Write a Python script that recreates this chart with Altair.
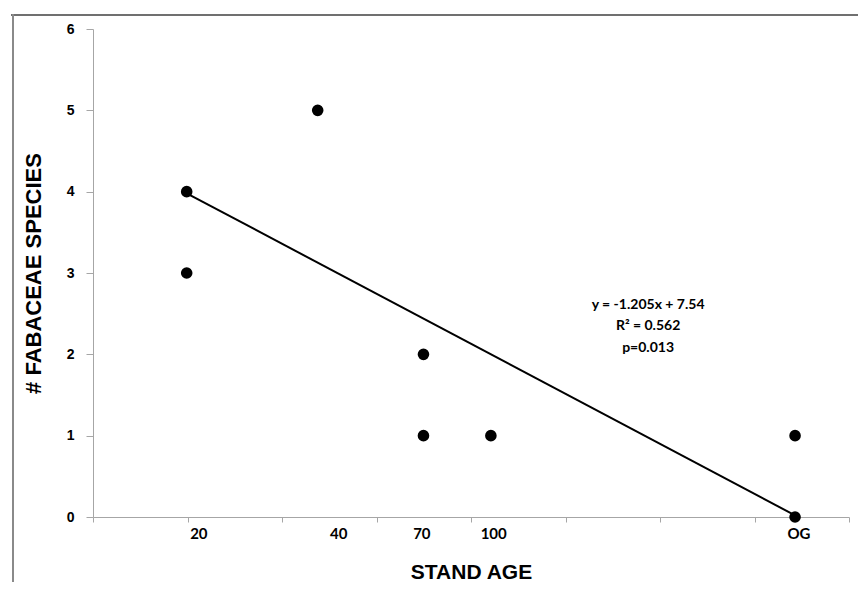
import altair as alt
import pandas as pd
import numpy as np

# Data
stand_age = [20, 20, 40, 70, 70, 100, 500, 500]   # "OG" plotted at ~500 yr
species = [4, 3, 5, 2, 1, 1, 1, 0]

trend_age = [20, 500]
trend_y = [3.98, 0.02]

tick_text = ["20", "40", "70", "100", "OG"]
tick_pos = [3.06, 3.80, 4.24, 4.62, 6.235]   # positions on ln(age) axis

eq_lines = ["y = -1.205x + 7.54", "R² = 0.562", "p=0.013"]

pts = pd.DataFrame({"lnage": np.log(stand_age), "n": species})
trend = pd.DataFrame({"lnage": np.log(trend_age), "n": trend_y})
ticks = pd.DataFrame({"pos": tick_pos, "lab": tick_text})

W, H = 756, 488
AX = "#a6a6a6"

xscale = alt.Scale(domain=[2.5, 6.5], nice=False, zero=False)
yscale = alt.Scale(domain=[0, 6], nice=False)

xaxis = alt.Axis(values=[2.5, 3, 3.5, 4, 4.5, 5, 5.5, 6, 6.5], labels=False, grid=False,
                 tickSize=5, domainColor=AX, tickColor=AX, title="STAND AGE",
                 titleFont="Liberation Sans", titleFontSize=21, titleFontWeight="bold",
                 titleColor="black", titlePadding=39)
yaxis = alt.Axis(values=[0, 1, 2, 3, 4, 5, 6], format="d", grid=False, tickSize=7,
                 domainColor=AX, tickColor=AX, labelFont="Liberation Sans",
                 labelFontSize=14, labelFontWeight="bold", labelColor="black",
                 labelPadding=12, title="# FABACEAE SPECIES",
                 titleFont="Liberation Sans", titleFontSize=22, titleFontWeight="bold",
                 titleColor="black", titlePadding=21)

one = pd.DataFrame({"a": [0]})
top_border = alt.Chart(one).mark_rule(color="#707070", strokeWidth=2, clip=False).encode(
    x=alt.value(-82), x2=alt.value(770), y=alt.value(-14))
left_border = alt.Chart(one).mark_rule(color="#8a8a8a", strokeWidth=2, clip=False).encode(
    x=alt.value(-80), y=alt.value(-15), y2=alt.value(600))

points = alt.Chart(pts).mark_circle(size=135, color="black", opacity=1).encode(
    x=alt.X("lnage:Q", scale=xscale, axis=xaxis),
    y=alt.Y("n:Q", scale=yscale, axis=yaxis),
)

line = alt.Chart(trend).mark_line(color="black", strokeWidth=2).encode(
    x=alt.X("lnage:Q", scale=xscale),
    y=alt.Y("n:Q", scale=yscale),
)

labels = alt.Chart(ticks).mark_text(
    font="Lato", fontSize=15, fontWeight="bold", color="black", baseline="middle",
    clip=False
).encode(
    x=alt.X("pos:Q", scale=xscale),
    y=alt.value(H + 17),
    text="lab:N",
)

eq = alt.Chart(one).mark_text(
    font="Lato", fontSize=14, fontWeight="bold", color="black", align="center",
    baseline="top", lineHeight=21.5, dy=-8
).encode(
    x=alt.datum(5.437),
    y=alt.datum(2.60),
    text=alt.value(eq_lines),
)

chart = alt.layer(top_border, left_border, line, points, labels, eq).properties(
    width=W, height=H,
    autosize=alt.AutoSizeParams(type="none"),
    padding={"left": 85, "top": 21, "right": 9, "bottom": 65},
).configure_view(stroke=None)

chart.save("out.html", embed_options={"renderer": "svg", "actions": False})
